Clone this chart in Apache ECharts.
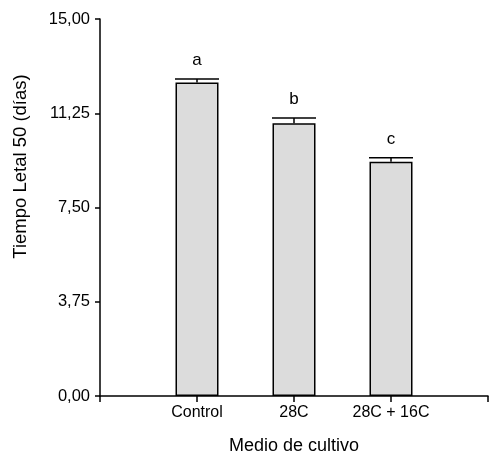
<!DOCTYPE html>
<html><head><meta charset="utf-8">
<script src="https://cdn.jsdelivr.net/npm/echarts@6/dist/echarts.min.js"></script>
<style>html,body{margin:0;padding:0;background:#fff}#c{width:489px;height:452px}</style>
</head><body><div id="c"></div>
<script>
var categories = ["Control", "28C", "28C + 16C"];
var means = [12.47, 10.85, 9.32];
var errors = [0.14, 0.21, 0.16];
var letters = ["a", "b", "c"];
var yTicks = [0, 3.75, 7.5, 11.25, 15];

var FONT = '"Liberation Sans", Arial, sans-serif';
var chart = echarts.init(document.getElementById('c'));
var barData = categories.map(function (c, i) { return [i + 1, means[i]]; });
var errData = categories.map(function (c, i) { return [i + 1, means[i], errors[i], letters[i]]; });

chart.setOption({
  animation: false,
  grid: { left: 100, right: 1, top: 19, bottom: 56, outerBoundsMode: 'none', containLabel: false },
  xAxis: {
    type: 'value', min: 0, max: 4, interval: 1,
    name: 'Medio de cultivo', nameLocation: 'middle', nameGap: 41,
    nameTextStyle: { color: '#000', fontSize: 18, fontFamily: FONT },
    axisLine: { lineStyle: { color: '#000', width: 1.5 } },
    axisTick: { show: true, length: 6, lineStyle: { color: '#000', width: 1.5 } },
    axisLabel: {
      color: '#000', fontSize: 16, fontFamily: FONT, margin: 9,
      showMinLabel: true, showMaxLabel: true,
      formatter: function (v) { return categories[v - 1] || ''; }
    },
    splitLine: { show: false }
  },
  yAxis: {
    type: 'value', min: 0, max: 15, interval: 3.75,
    name: 'Tiempo Letal 50 (días)', nameLocation: 'middle', nameGap: 70,
    nameTextStyle: { color: '#000', fontSize: 18.5, fontFamily: FONT, padding: [0, 0, 0, 82] },
    axisLine: { show: true, lineStyle: { color: '#000', width: 1.5 } },
    axisTick: { show: true, length: 5, lineStyle: { color: '#000', width: 1.5 } },
    axisLabel: {
      color: '#000', fontSize: 16.5, fontFamily: FONT, margin: 10,
      formatter: function (v) { return v.toFixed(2).replace('.', ','); }
    },
    splitLine: { show: false }
  },
  series: [
    {
      type: 'bar', data: barData, barWidth: 43,
      itemStyle: { color: '#dcdcdc', borderColor: '#000', borderWidth: 1.5 }
    },
    {
      type: 'custom', data: errData,
      renderItem: function (params, api) {
        var x = api.value(0), m = api.value(1), e = api.value(2);
        var top = api.coord([x, m + e]);
        var base = api.coord([x, m]);
        var hw = 22;
        return {
          type: 'group', children: [
            { type: 'line', shape: { x1: top[0], y1: top[1], x2: top[0], y2: base[1] }, style: { stroke: '#000', lineWidth: 1.5 } },
            { type: 'line', shape: { x1: top[0] - hw, y1: top[1], x2: top[0] + hw, y2: top[1] }, style: { stroke: '#000', lineWidth: 1.5 } },
            { type: 'text', x: top[0], y: top[1] - 10, style: { text: letters[params.dataIndex], fill: '#000', font: '17px ' + FONT, align: 'center', verticalAlign: 'bottom' } }
          ]
        };
      }
    }
  ]
});
</script></body></html>
